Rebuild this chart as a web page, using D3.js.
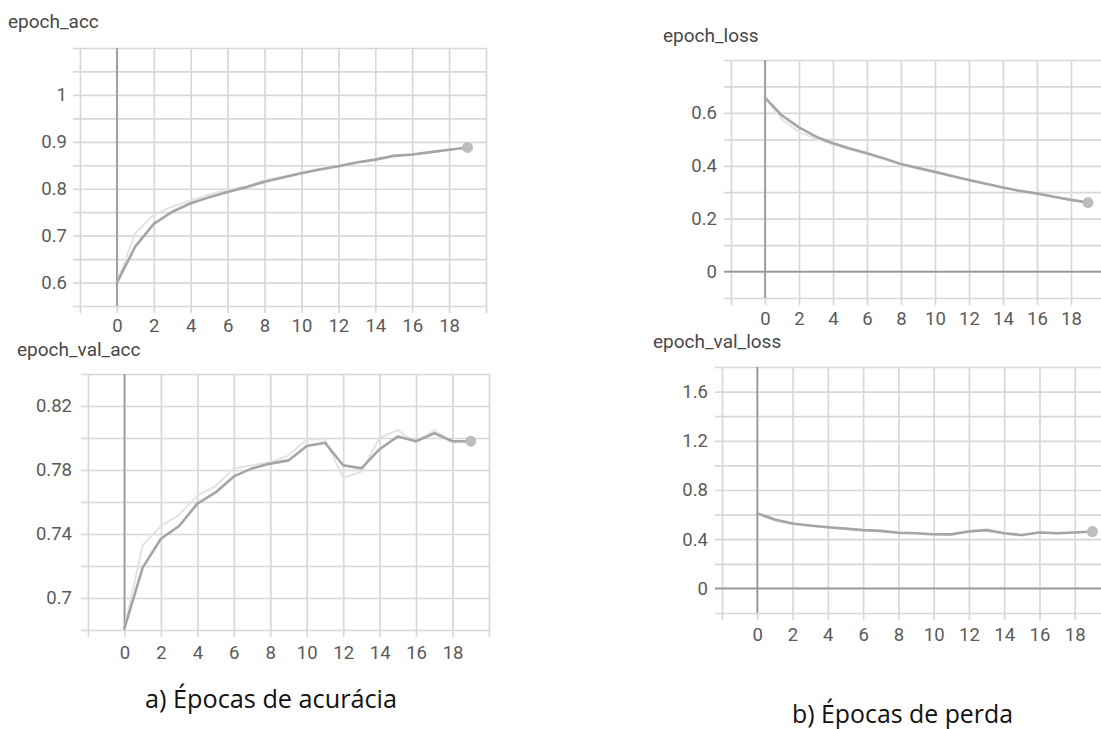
<!DOCTYPE html>
<html>
<head>
<meta charset="utf-8">
<script src="https://cdn.jsdelivr.net/npm/d3@7"></script>
<style>
  html, body { margin: 0; padding: 0; background: #fff; }
  svg { display: block; }
  .tick text { font-family: Roboto, "Liberation Sans", Arial, sans-serif; font-size: 18.5px; fill: #5a5a5a; }
  .title { font-family: Roboto, "Liberation Sans", Arial, sans-serif; font-size: 19px; fill: #474747; }
  .caption { font-family: "Open Sans", "Noto Sans", sans-serif; font-size: 25px; fill: #111; }
</style>
</head>
<body>
<svg id="chart" width="1101" height="729"></svg>
<script>
// Training history over 20 epochs (TensorBoard scalars: raw + smoothed)
const epochs = [0, 1, 2, 3, 4, 5, 6, 7, 8, 9, 10, 11, 12, 13, 14, 15, 16, 17, 18, 19];

const accRaw      = [0.600, 0.705, 0.745, 0.762, 0.775, 0.788, 0.798, 0.805, 0.818, 0.826, 0.835, 0.842, 0.849, 0.857, 0.863, 0.870, 0.873, 0.878, 0.883, 0.888];
const accSmoothed = [0.600, 0.677, 0.725, 0.751, 0.769, 0.782, 0.793, 0.803, 0.815, 0.824, 0.833, 0.841, 0.848, 0.856, 0.862, 0.870, 0.873, 0.878, 0.883, 0.888];

const valAccRaw      = [0.681, 0.733, 0.745, 0.752, 0.764, 0.770, 0.781, 0.783, 0.785, 0.789, 0.799, 0.799, 0.775, 0.779, 0.800, 0.805, 0.797, 0.805, 0.797, 0.798];
const valAccSmoothed = [0.681, 0.719, 0.737, 0.745, 0.759, 0.766, 0.776, 0.781, 0.784, 0.786, 0.795, 0.797, 0.783, 0.781, 0.793, 0.801, 0.798, 0.803, 0.798, 0.798];

const lossRaw      = [0.658, 0.575, 0.528, 0.502, 0.480, 0.461, 0.443, 0.425, 0.404, 0.390, 0.375, 0.360, 0.345, 0.331, 0.317, 0.304, 0.294, 0.282, 0.270, 0.260];
const lossSmoothed = [0.658, 0.590, 0.545, 0.510, 0.485, 0.465, 0.447, 0.428, 0.407, 0.392, 0.377, 0.361, 0.346, 0.332, 0.318, 0.305, 0.295, 0.283, 0.271, 0.261];

const valLossRaw      = [0.610, 0.550, 0.522, 0.508, 0.494, 0.484, 0.472, 0.466, 0.451, 0.446, 0.437, 0.438, 0.468, 0.478, 0.444, 0.430, 0.458, 0.446, 0.457, 0.463];
const valLossSmoothed = [0.610, 0.560, 0.528, 0.512, 0.497, 0.486, 0.474, 0.468, 0.453, 0.448, 0.440, 0.439, 0.462, 0.474, 0.448, 0.434, 0.455, 0.448, 0.455, 0.462];

// Tick labels
const xTickLabels       = [0, 2, 4, 6, 8, 10, 12, 14, 16, 18];
const accTickLabels     = [0.6, 0.7, 0.8, 0.9, 1];
const valAccTickLabels  = [0.7, 0.74, 0.78, 0.82];
const lossTickLabels    = [0, 0.2, 0.4, 0.6];
const valLossTickLabels = [0, 0.4, 0.8, 1.2, 1.6];

const titles   = ["epoch_acc", "epoch_val_acc", "epoch_loss", "epoch_val_loss"];
const captions = ["a) Épocas de acurácia", "b) Épocas de perda"];

// Panel layout
const panels = [
  { title: titles[0], raw: accRaw, smooth: accSmoothed, labels: accTickLabels,
    box: { l: 80, r: 486, t: 48, b: 306 }, yDom: [0.55, 1.1], yStep: 0.05,
    titlePos: [8, 28], yPad: 6, xPad: 6, zeroY: false },
  { title: titles[1], raw: valAccRaw, smooth: valAccSmoothed, labels: valAccTickLabels,
    box: { l: 88, r: 489, t: 374, b: 630 }, yDom: [0.68, 0.84], yStep: 0.02,
    titlePos: [17, 356], yPad: 9, xPad: 9, zeroY: false },
  { title: titles[2], raw: lossRaw, smooth: lossSmoothed, labels: lossTickLabels,
    box: { l: 731, r: 1105, t: 60, b: 298 }, yDom: [-0.1, 0.8], yStep: 0.1,
    titlePos: [663, 42], yPad: 7, xPad: 7, zeroY: true },
  { title: titles[3], raw: valLossRaw, smooth: valLossSmoothed, labels: valLossTickLabels,
    box: { l: 722, r: 1110, t: 367, b: 613 }, yDom: [-0.2, 1.8], yStep: 0.2,
    titlePos: [653, 348], yPad: 7, xPad: 8, zeroY: true }
];

const svg = d3.select("#chart");
const TICK = 7;
const gridColor = "#d8d8d8";
const zeroColor = "#979797";

const clean = v => +v.toFixed(6);

panels.forEach(p => {
  const { l, r, t, b } = p.box;
  const x = d3.scaleLinear().domain([-2, 20]).range([l, r]);
  const y = d3.scaleLinear().domain(p.yDom).range([b, t]);

  const nY = Math.round((p.yDom[1] - p.yDom[0]) / p.yStep);
  const yGrid = d3.range(nY + 1).map(i => clean(p.yDom[0] + i * p.yStep));
  const xGrid = d3.range(12).map(i => -2 + 2 * i);
  const labelSet = new Set(p.labels.map(clean));
  const xLabelSet = new Set(xTickLabels);

  const g = svg.append("g");

  // horizontal grid + y labels
  const yAxis = g.append("g")
    .attr("transform", `translate(${l - TICK},0)`)
    .call(d3.axisLeft(y).tickValues(yGrid).tickSize(-(r - l + TICK)).tickPadding(p.yPad)
      .tickFormat(v => labelSet.has(clean(v)) ? String(clean(v)) : ""));
  yAxis.select(".domain").remove();
  yAxis.selectAll(".tick line").attr("stroke", gridColor).attr("stroke-width", 1.7);

  // vertical grid + x labels
  const xAxis = g.append("g")
    .attr("transform", `translate(0,${b + TICK})`)
    .call(d3.axisBottom(x).tickValues(xGrid).tickSize(-(b - t + TICK)).tickPadding(p.xPad)
      .tickFormat(v => xLabelSet.has(v) ? String(v) : ""));
  xAxis.select(".domain").remove();
  xAxis.selectAll(".tick line").attr("stroke", gridColor).attr("stroke-width", 1.7);

  // zero axes
  g.append("line")
    .attr("x1", x(0)).attr("x2", x(0)).attr("y1", t).attr("y2", b)
    .attr("stroke", zeroColor).attr("stroke-width", 1.7);
  if (p.zeroY) {
    g.append("line")
      .attr("x1", l - TICK).attr("x2", r).attr("y1", y(0)).attr("y2", y(0))
      .attr("stroke", zeroColor).attr("stroke-width", 1.7);
  }

  const line = d3.line().x((d, i) => x(epochs[i])).y(d => y(d));

  g.append("path").datum(p.raw)
    .attr("d", line).attr("fill", "none")
    .attr("stroke", "#e4e4e4").attr("stroke-width", 2)
    .attr("stroke-linejoin", "round");
  g.append("path").datum(p.smooth)
    .attr("d", line).attr("fill", "none")
    .attr("stroke", "#a5a5a5").attr("stroke-width", 2.6)
    .attr("stroke-linejoin", "round").attr("stroke-linecap", "round");

  const last = epochs.length - 1;
  g.append("circle")
    .attr("cx", x(epochs[last])).attr("cy", y(p.smooth[last])).attr("r", 5.5)
    .attr("fill", "#bdbdbd");

  svg.append("text").attr("class", "title")
    .attr("x", p.titlePos[0]).attr("y", p.titlePos[1]).text(p.title);
});

svg.append("text").attr("class", "caption")
  .attr("x", 145).attr("y", 708)
  .attr("textLength", 252).attr("lengthAdjust", "spacingAndGlyphs")
  .text(captions[0]);
svg.append("text").attr("class", "caption")
  .attr("x", 792).attr("y", 723)
  .attr("textLength", 221).attr("lengthAdjust", "spacingAndGlyphs")
  .text(captions[1]);
</script>
</body>
</html>
